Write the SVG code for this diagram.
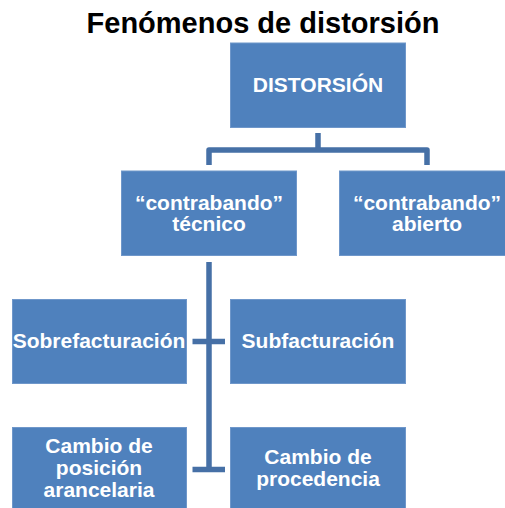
<svg xmlns="http://www.w3.org/2000/svg" width="505" height="508" viewBox="0 0 505 508">
<style>
.box{fill:#4F81BD;stroke:#6F97CA;stroke-width:1}
.lbl{font-family:"Liberation Sans",Arial,sans-serif;font-weight:bold;font-size:21px;fill:#fff;text-anchor:middle}
.title{font-family:"Liberation Sans",Arial,sans-serif;font-weight:bold;font-size:29px;fill:#000;text-anchor:middle}
.conn{fill:none;stroke:#4670A6;stroke-width:5.5;stroke-linejoin:round}
</style>
<rect width="505" height="508" fill="#fff"/>
<text class="title" x="263" y="33">Fenómenos de distorsión</text>
<g id="connectors">
<path class="conn" d="M318,133 V150 M209,165 V150 H427 V165"/>
<path class="conn" d="M209,262 V469.5 M192.5,341.5 H225 M192.5,469.5 H225"/>
</g>
<g id="distorsion">
<rect class="box" x="230.5" y="43" width="175" height="84.5"/>
<text class="lbl" x="318" y="92">DISTORSIÓN</text>
</g>
<g id="tecnico">
<rect class="box" x="121.5" y="171" width="175" height="84.5"/>
<text class="lbl" x="209" y="210">“contrabando”</text>
<text class="lbl" x="209" y="231">técnico</text>
</g>
<g id="abierto">
<rect class="box" x="339.5" y="171" width="175" height="84.5"/>
<text class="lbl" x="427" y="210">“contrabando”</text>
<text class="lbl" x="427" y="231">abierto</text>
</g>
<g id="sobrefacturacion">
<rect class="box" x="12.5" y="299.5" width="174" height="84"/>
<text class="lbl" x="99" y="348">Sobrefacturación</text>
</g>
<g id="subfacturacion">
<rect class="box" x="230.5" y="299.5" width="175" height="84"/>
<text class="lbl" x="318" y="348">Subfacturación</text>
</g>
<g id="posicion">
<rect class="box" x="12.5" y="427.5" width="174" height="84"/>
<text class="lbl" x="99" y="453">Cambio de</text>
<text class="lbl" x="99" y="475">posición</text>
<text class="lbl" x="99" y="497">arancelaria</text>
</g>
<g id="procedencia">
<rect class="box" x="230.5" y="427.5" width="175" height="84"/>
<text class="lbl" x="318" y="464">Cambio de</text>
<text class="lbl" x="318" y="486">procedencia</text>
</g>
</svg>
